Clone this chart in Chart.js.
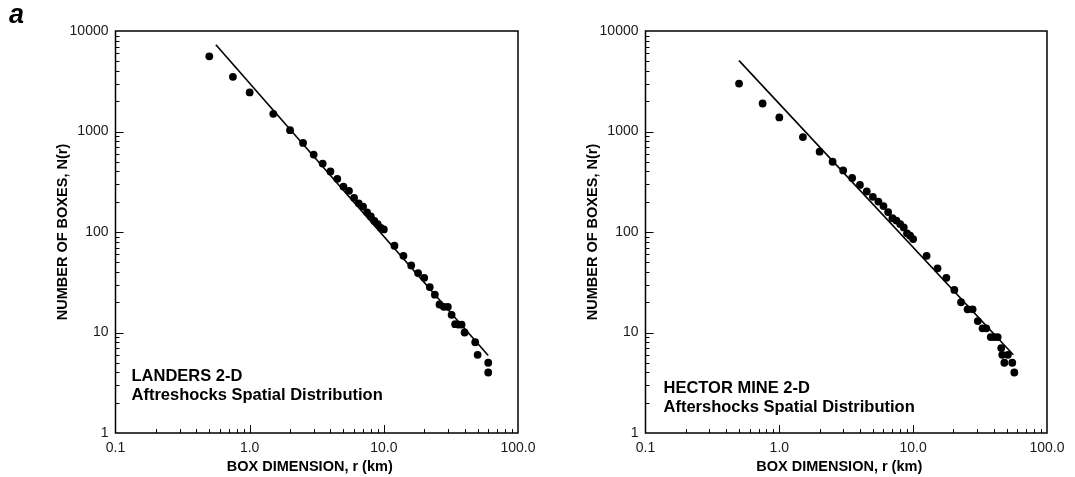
<!DOCTYPE html>
<html>
<head>
<meta charset="utf-8">
<script src="https://cdn.jsdelivr.net/npm/chart.js@4.4.1/dist/chart.umd.min.js"></script>
<style>
  body { margin: 0; background: #fff; }
  #wrap { position: relative; width: 1075px; height: 477px; }
  canvas { position: absolute; top: 0; }
  #landers { left: 0; }
  #hector { left: 537px; }
  #tag { position: absolute; left: 9px; top: -1px; font: italic bold 27px "Liberation Sans", Arial, sans-serif; color: #000; }
</style>
</head>
<body>
<div id="wrap">
  <canvas id="landers" width="537" height="477"></canvas>
  <canvas id="hector" width="538" height="477"></canvas>
  <div id="tag">a</div>
</div>
<script>
// Landers box counting: box size r (km) and number of occupied boxes N(r)
const landersR = [0.5, 0.75, 1, 1.5, 2, 2.5, 3, 3.5, 4, 4.5, 5, 5.5, 6, 6.5, 7, 7.5, 8, 8.5, 9, 9.5, 10,
  12, 14, 16, 18, 20, 22, 24, 26, 28, 30, 32, 34, 36, 38, 40, 48, 50, 60, 60];
const landersN = [5600, 3500, 2450, 1500, 1030, 770, 590, 480, 400, 338, 283, 257, 219, 193, 179, 157, 143, 129, 120, 110, 106,
  73, 58, 46.5, 39, 35, 28.3, 23.8, 19, 18, 18, 15, 12.1, 12, 12, 10, 8, 6, 5, 4];
// fitted power law, end points
const landersFitR = [0.56, 60];
const landersFitN = [7300, 5.9];

// Hector Mine box counting
const hectorR = [0.5, 0.75, 1, 1.5, 2, 2.5, 3, 3.5, 4, 4.5, 5, 5.5, 6, 6.5, 7, 7.5, 8, 8.5, 9, 9.5, 10,
  12.6, 15.2, 17.7, 20.3, 22.8, 25.5, 27.8, 30.4, 33, 35.2, 38, 40.3, 42.8, 45.5, 46.3, 48, 51, 55, 57];
const hectorN = [3000, 1900, 1380, 880, 630, 500, 410, 345, 294, 253, 224, 201, 181, 158, 137, 130, 120, 111, 97, 92, 85,
  58, 43.5, 35, 26.5, 20, 17, 17, 13, 11, 11, 9, 9, 9, 7, 6, 5, 6, 5, 4];
const hectorFitR = [0.5, 56];
const hectorFitN = [5070, 6.0];

// axis ticks: labelled decades plus minor steps inside each decade
const rMajor = [0.1, 1, 10, 100];
const rMajorLabels = ['0.1', '1.0', '10.0', '100.0'];
const nMajor = [1, 10, 100, 1000, 10000];
const nMajorLabels = ['1', '10', '100', '1000', '10000'];
const minorSteps = [2, 3, 4, 5, 6, 7, 8, 9];

const FONT = '"Liberation Sans", Arial, Helvetica, sans-serif';

function tickList(majors) {
  const out = [];
  majors.forEach((m, i) => {
    out.push(m);
    if (i < majors.length - 1) minorSteps.forEach(s => out.push(+(m * s).toPrecision(6)));
  });
  return out;
}

function labelFor(majors, labels) {
  return function (value) {
    const i = majors.findIndex(m => Math.abs(m - value) / m < 1e-6);
    return i >= 0 ? labels[i] : '';
  };
}

function isMajor(majors, v) {
  return majors.some(m => Math.abs(m - v) / m < 1e-6);
}

// keep the plot box where the layout padding puts it, labels may overhang
function noLabelPadding(s) {
  s.paddingLeft = 0;
  s.paddingRight = 0;
  s.paddingTop = 0;
  s.paddingBottom = 0;
}

// box frame + short inward ticks on the left and bottom axes
const frameTicks = {
  id: 'frameTicks',
  afterDatasetsDraw(chart) {
    const {ctx, chartArea: a, scales} = chart;
    ctx.save();
    ctx.strokeStyle = '#000';
    ctx.lineWidth = 1;
    ctx.beginPath();
    scales.x.ticks.forEach(t => {
      if (t.value <= scales.x.min || t.value >= scales.x.max) return;
      const px = Math.round(scales.x.getPixelForValue(t.value)) + 0.5;
      const len = isMajor(rMajor, t.value) ? 8 : 4;
      ctx.moveTo(px, a.bottom);
      ctx.lineTo(px, a.bottom - len);
    });
    scales.y.ticks.forEach(t => {
      if (t.value <= scales.y.min || t.value >= scales.y.max) return;
      const py = Math.round(scales.y.getPixelForValue(t.value)) + 0.5;
      const len = isMajor(nMajor, t.value) ? 8 : 4;
      ctx.moveTo(a.left, py);
      ctx.lineTo(a.left + len, py);
    });
    ctx.stroke();
    ctx.lineWidth = 1.5;
    ctx.strokeRect(a.left, a.top, a.right - a.left, a.bottom - a.top);
    ctx.restore();
  }
};

// caption in the lower left of the plot and the x axis title under the labels
const caption = {
  id: 'caption',
  afterDraw(chart, args, opts) {
    const {ctx, chartArea: a} = chart;
    ctx.save();
    ctx.fillStyle = '#000';
    ctx.font = 'bold 16.5px ' + FONT;
    ctx.textBaseline = 'alphabetic';
    opts.lines.forEach((s, i) => ctx.fillText(s, a.left + opts.dx, opts.y + i * 18.5));
    ctx.font = 'bold 14.5px ' + FONT;
    ctx.textAlign = 'center';
    ctx.textBaseline = 'middle';
    ctx.fillText(opts.xTitle, (a.left + a.right) / 2 - 7, a.bottom + 34);
    ctx.restore();
  }
};

function makeChart(id, r, n, fitR, fitN, cfg) {
  const pts = r.map((v, i) => ({x: v, y: n[i]}));
  const fit = fitR.map((v, i) => ({x: v, y: fitN[i]}));
  return new Chart(document.getElementById(id), {
    type: 'scatter',
    data: {
      datasets: [
        {data: fit, showLine: true, pointRadius: 0, borderColor: '#000', borderWidth: 1.6},
        {data: pts, pointRadius: 3.9, pointBackgroundColor: '#000', pointBorderWidth: 0, borderColor: '#000'}
      ]
    },
    options: {
      responsive: false,
      animation: false,
      events: [],
      layout: {padding: {top: 31, right: cfg.padRight, left: 0, bottom: 0}},
      plugins: {
        legend: {display: false},
        tooltip: {enabled: false},
        caption: {lines: cfg.lines, dx: cfg.capDx, y: cfg.capY, xTitle: 'BOX DIMENSION, r (km)'}
      },
      scales: {
        x: {
          type: 'logarithmic',
          min: 0.1, max: 100,
          grid: {display: false, drawTicks: false},
          border: {display: false},
          afterBuildTicks: s => { s.ticks = tickList(rMajor).map(v => ({value: v})); },
          afterFit: s => { s.height = 44; noLabelPadding(s); },
          ticks: {
            autoSkip: false, maxRotation: 0, minRotation: 0, padding: 7,
            color: '#1a1a1a', font: {family: FONT, size: 14},
            callback: labelFor(rMajor, rMajorLabels)
          },
          title: {display: false}
        },
        y: {
          type: 'logarithmic',
          min: 1, max: 10000,
          grid: {display: false, drawTicks: false},
          border: {display: false},
          afterBuildTicks: s => { s.ticks = tickList(nMajor).map(v => ({value: v})); },
          afterFit: s => { s.width = cfg.axisWidth; noLabelPadding(s); },
          ticks: {
            autoSkip: false, padding: 7,
            color: '#1a1a1a', font: {family: FONT, size: 14},
            callback: labelFor(nMajor, nMajorLabels)
          },
          title: {
            display: true, text: 'NUMBER OF BOXES, N(r)', color: '#000',
            font: {family: FONT, size: 14.5, weight: 'bold'},
            padding: {top: cfg.titleX, bottom: 0}
          }
        }
      }
    },
    plugins: [frameTicks, caption]
  });
}

makeChart('landers', landersR, landersN, landersFitR, landersFitN, {
  padRight: 19, axisWidth: 115.5, titleX: 54,
  lines: ['LANDERS 2-D', 'Aftreshocks Spatial Distribution'], capDx: 16, capY: 381
});
makeChart('hector', hectorR, hectorN, hectorFitR, hectorFitN, {
  padRight: 28, axisWidth: 108.5, titleX: 47.5,
  lines: ['HECTOR MINE 2-D', 'Aftershocks Spatial Distribution'], capDx: 18, capY: 393
});
</script>
</body>
</html>
